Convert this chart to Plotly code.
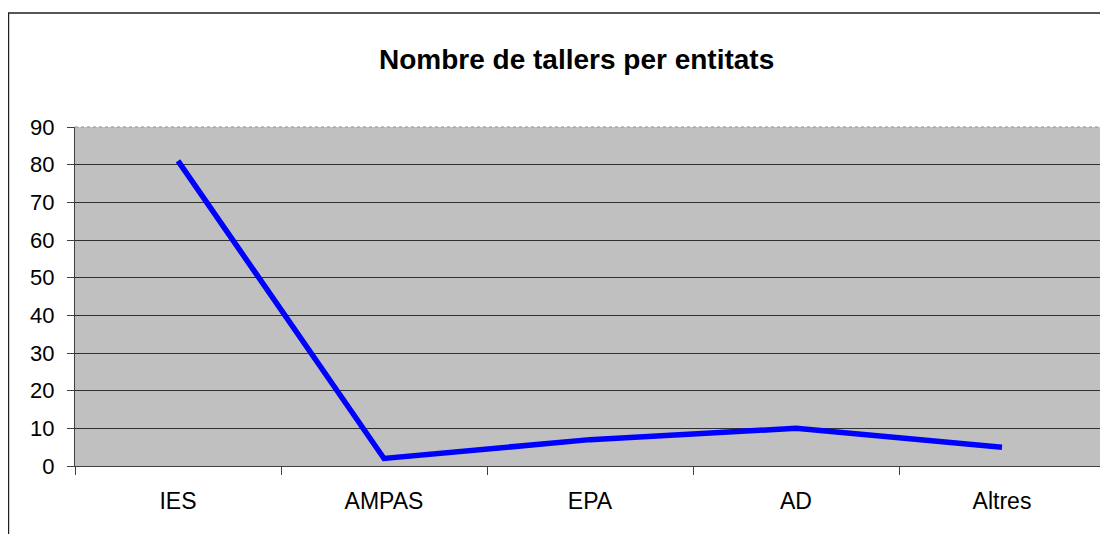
import plotly.graph_objects as go

categories = ["IES", "AMPAS", "EPA", "AD", "Altres"]
values = [81, 2, 7, 10, 5]
y_ticks = [0, 10, 20, 30, 40, 50, 60, 70, 80, 90]

fig = go.Figure()
fig.add_trace(go.Scatter(
    x=categories, y=values, mode="lines",
    line=dict(color="#0000FF", width=5.5),
    showlegend=False, hoverinfo="x+y",
))

font = dict(family="Liberation Sans, Arial, sans-serif", size=22, color="black")
xfont = dict(family="Liberation Sans, Arial, sans-serif", size=23, color="black")

fig.update_layout(
    width=1108, height=534,
    margin=dict(l=67, r=11, t=119, b=76),
    paper_bgcolor="white",
    plot_bgcolor="#C0C0C0",
    font=font,
    title=dict(
        text="<b>Nombre de tallers per entitats</b>",
        x=0.487, xref="paper", xanchor="center",
        y=1 - 51 / 534, yref="container", yanchor="middle",
        font=dict(family="Liberation Sans, Arial, sans-serif", size=28, color="black"),
    ),
    xaxis=dict(
        type="category", range=[-0.5, 4.5],
        showgrid=False, showline=True, linecolor="#404040", linewidth=1,
        ticks="outside", tickson="boundaries", ticklen=8, tickcolor="#404040",
        ticklabelstandoff=14, tickfont=xfont,
    ),
    yaxis=dict(
        range=[0, 90], tickvals=y_ticks,
        showgrid=True, gridcolor="#303030", gridwidth=1,
        showline=True, linecolor="#404040", linewidth=1,
        ticks="outside", ticklen=7, tickcolor="#404040",
        ticklabelstandoff=8, tickfont=font, zeroline=False,
    ),
    shapes=[
        dict(type="rect", xref="paper", yref="paper",
             x0=-0.0646, x1=1.02, y0=-0.25, y1=1.336,
             line=dict(color="#202020", width=1.5), fillcolor="rgba(0,0,0,0)", layer="below"),
        dict(type="line", xref="paper", yref="paper", x0=0, x1=1, y0=1, y1=1,
             line=dict(color="#909090", width=1, dash="dot")),
    ],
)

fig.write_html("out.html")
